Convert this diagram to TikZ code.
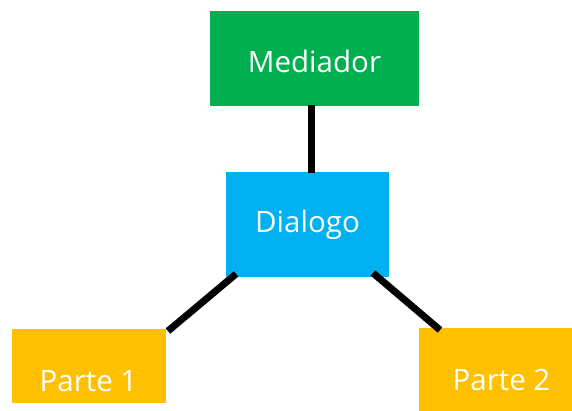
\documentclass[tikz,border=0pt]{standalone}
\usepackage{fontspec}
\setmainfont{Open Sans}
\usetikzlibrary{calc}
\definecolor{mgreen}{HTML}{00B050}
\definecolor{mcyan}{HTML}{00B0F0}
\definecolor{myellow}{HTML}{FFC000}
\begin{document}
\begin{tikzpicture}[x=1pt,y=-1pt,
  box/.style={inner sep=0pt, outer sep=0pt, anchor=north west, draw=none},
  lbl/.style={text=white, font=\fontsize{29.5}{31}\selectfont, inner sep=0pt, anchor=base},
  conn/.style={line width=7pt, black}]
\useasboundingbox (0,0) rectangle (572,411);
% boxes
\node[box, fill=mgreen, minimum width=209pt, minimum height=95pt] (med) at (210,11) {};
\node[box, fill=mcyan, minimum width=163pt, minimum height=105pt] (dia) at (226,172) {};
\node[box, fill=myellow, minimum width=154pt, minimum height=74pt] (p1) at (12,329) {};
\node[box, fill=myellow, minimum width=153pt, minimum height=83pt] (p2) at (419,328) {};
% connectors
\draw[conn] ($(med.south west)+(101.5,-1)$) -- ($(dia.north west)+(85.5,1)$);
\draw[conn] ($(dia.south west)+(10,-3)$) -- ($(p1.north east)+(2,2)$);
\draw[conn] ($(dia.south east)+(-16,-4)$) -- ($(p2.north west)+(21,2)$);
% labels
\node[lbl] (tmed) at (314.5,73) {Mediador};
\node[lbl] (tdia) at (307.5,233) {Dialogo};
\node[lbl] (tp1) at (88.5,391) {Parte 1};
\node[lbl] (tp2) at (501.5,390) {Parte 2};
\end{tikzpicture}
\end{document}
